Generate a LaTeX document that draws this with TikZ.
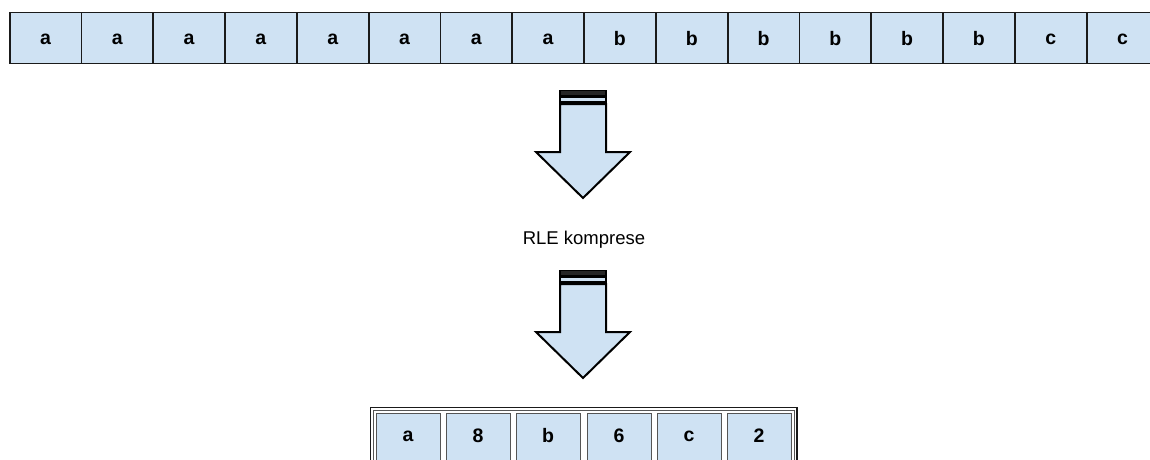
\documentclass[tikz,border=0pt]{standalone}
\usepackage{fontspec}
\setmainfont{Liberation Sans}
\definecolor{cellblue}{HTML}{CFE2F3}
\definecolor{edgedark}{HTML}{1A1A1A}
\definecolor{edgegrey}{HTML}{555555}
\tikzset{
  cell/.style={draw=edgedark, line width=1.8pt, fill=cellblue, minimum width=71.8pt,
    minimum height=51pt, inner sep=0pt, anchor=north west},
  smallcell/.style={draw=edgegrey, line width=1.1pt, fill=cellblue, minimum width=64pt,
    minimum height=60pt, inner sep=0pt, anchor=north west},
  cellchar/.style={inner sep=0pt, font=\fontsize{19.5}{22}\selectfont\bfseries},
  bigarrow/.style={draw=black, line width=2pt, fill=cellblue, line join=miter},
  stripe/.style={draw=black, line width=1.6pt},
  caption/.style={font=\fontsize{18.5}{22}\selectfont}
}
\begin{document}
\begin{tikzpicture}[x=1pt, y=-1pt]
  \useasboundingbox (0,0) rectangle (1150,459);
  \clip (0,0) rectangle (1150,459);

  % uncompressed input string
  \foreach \ch [count=\i] in {a,a,a,a,a,a,a,a,b,b,b,b,b,b,c,c} {
    \node[cell] (t\i) at ({8.7+(\i-1)*71.8},11.5) {};
    \node[cellchar] (tl\i) at ([yshift=-1pt]t\i.center) {\ch};
  }

  % two block arrows with striped tails
  \foreach \dy/\nm in {0/arrowA, 180/arrowB} {
    \begin{scope}[yshift=-\dy pt]
      \fill[black!85] (560,90.5) rectangle (606,95.5);
      \draw[stripe] (560,90.5) rectangle (606,95.5);
      \draw[stripe, fill=cellblue] (560,97.2) rectangle (606,101.8);
      \draw[bigarrow] (560,104) -- (606,104) -- (606,152) -- (630,152)
        -- (583,198) -- (536,152) -- (560,152) -- cycle;
      \coordinate (\nm) at (583,198);
    \end{scope}
  }

  \node[caption] (label) at (584,240) {RLE komprese};

  % compressed output: frame with pairs of symbol and count
  \draw[edgedark, line width=1.8pt] (370.5,407.5) rectangle (797,470);
  \draw[edgegrey, line width=0.7pt] (373.3,410.3) rectangle (794.2,470);
  \foreach \ch/\x [count=\i] in {a/376, 8/446, b/516, 6/587, c/657, 2/727} {
    \node[smallcell] (b\i) at (\x,412.5) {};
    \node[cellchar] (bl\i) at (\x+32,436) {\ch};
  }
\end{tikzpicture}
\end{document}
